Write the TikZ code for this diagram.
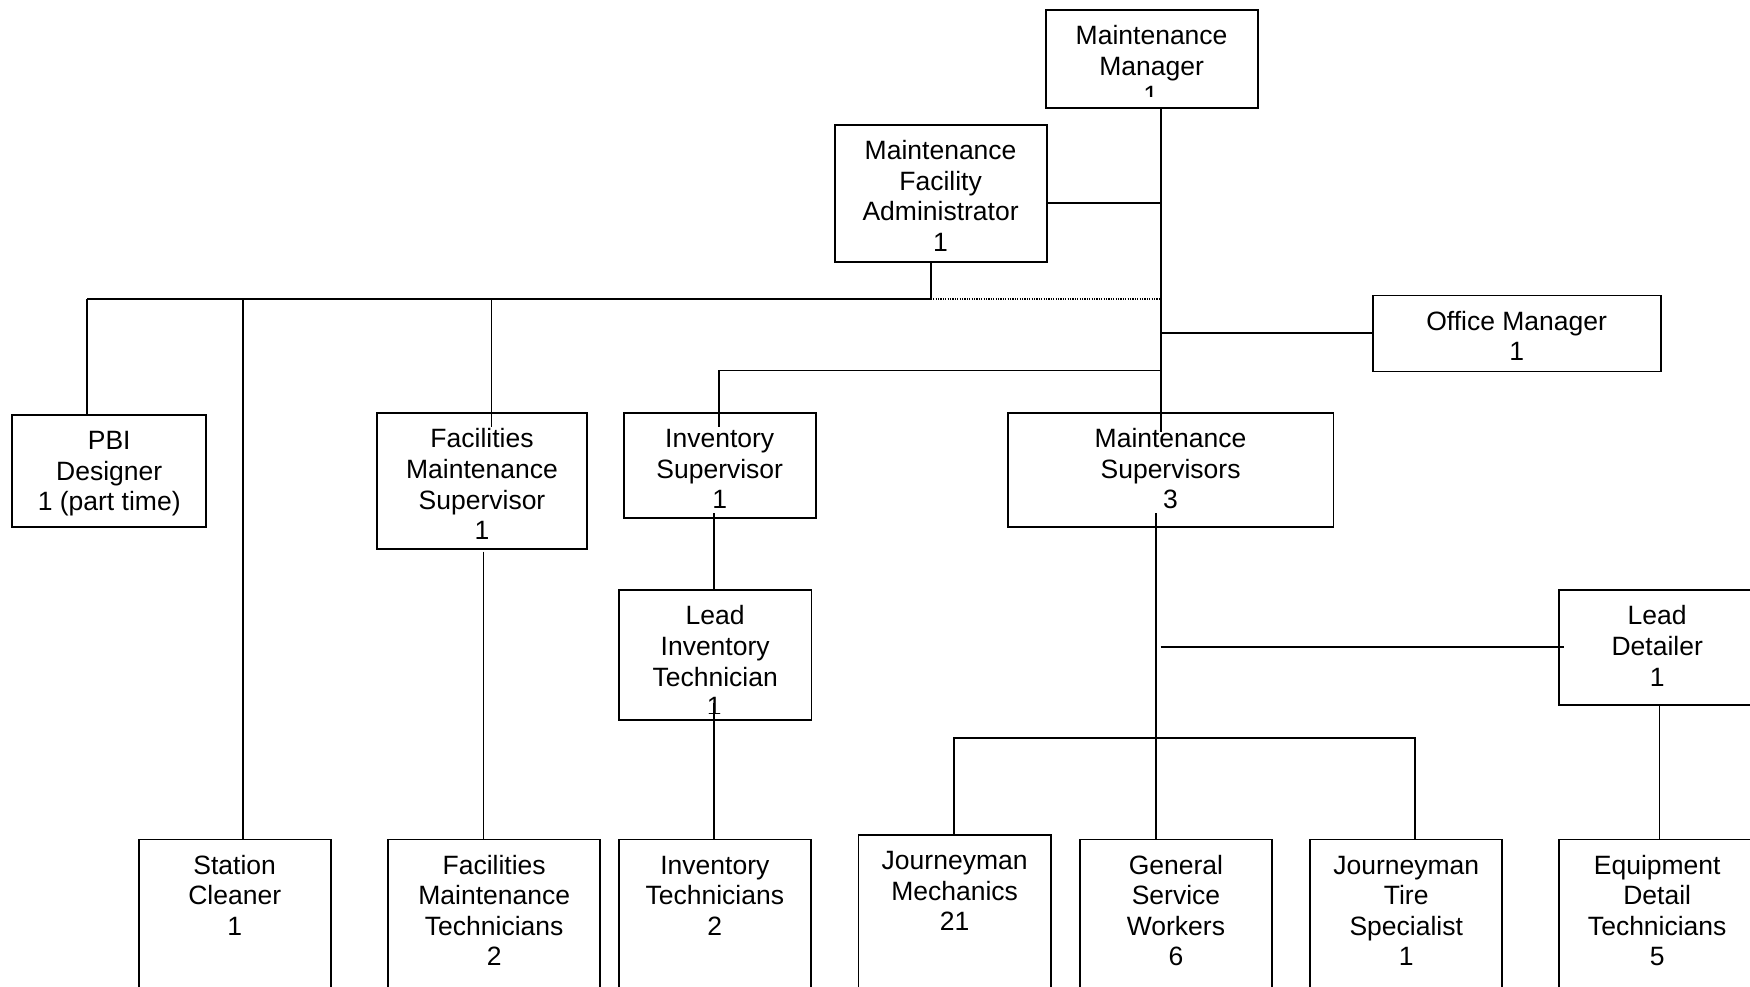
\documentclass[tikz,border=0pt]{standalone}
\usepackage{fontspec}
\setmainfont{Liberation Sans}
\newcommand{\bt}[3]{\parbox[t][#2][t]{#1}{\centering\rule{0pt}{34.7pt}#3}}
\tikzset{
  orgbox/.style={draw, line width=1.8pt, inner sep=0pt, anchor=north west,
    font=\fontsize{26.5}{30.6}\selectfont},
  txt/.style={inner sep=0pt, font=\fontsize{26.5}{30.6}\selectfont},
  conn/.style={line width=1.8pt},
  dotline/.style={line width=1.5pt, dash pattern=on 1.2pt off 1.2pt}
}
\begin{document}
\begin{tikzpicture}[x=1pt,y=-1pt]
\useasboundingbox (0,0) rectangle (1750,987);
\clip (0,0) rectangle (1750,987);
\fill[white] (0,0) rectangle (1750,987);

% boxes
\node[orgbox] (mm)   at (1044.7,8.9)   {\bt{212pt}{98.2pt}{Maintenance\\Manager}};
\node[orgbox] (mfa)  at (833.7,123.9)  {\bt{212pt}{137.3pt}{Maintenance\\Facility\\Administrator\\1}};
\node[orgbox] (om)   at (1371.7,294.6) {\bt{288pt}{75.9pt}{Office Manager\\1}};
\node[orgbox] (pbi)  at (11.2,414.1)   {\bt{194.2pt}{111.6pt}{PBI\\Designer\\1 (part time)}};
\node[orgbox] (fms)  at (376.1,412.3)  {\bt{210pt}{135.5pt}{Facilities\\Maintenance\\Supervisor\\1}};
\node[orgbox] (isup) at (622.8,411.8)  {\bt{192pt}{105pt}{Inventory\\Supervisor\\1}};
\node[orgbox] (ms)   at (1006.7,411.8) {\bt{325.9pt}{113.9pt}{Maintenance\\Supervisors\\3}};
\node[orgbox] (lit)  at (618,589.3)    {\bt{192.5pt}{129.7pt}{Lead\\Inventory\\Technician}};
\node[orgbox] (ld)   at (1558.3,589.3) {\bt{196pt}{115pt}{Lead\\Detailer\\1}};
\node[orgbox] (sc)   at (137.8,838.5)  {\bt{192pt}{200pt}{Station\\Cleaner\\1}};
\node[orgbox] (fmt)  at (387.3,838.5)  {\bt{212pt}{200pt}{Facilities\\Maintenance\\Technicians\\2}};
\node[orgbox] (it)   at (617.8,838.5)  {\bt{192.3pt}{200pt}{Inventory\\Technicians\\2}};
\node[orgbox] (jm)   at (857.5,833.9)  {\bt{192.5pt}{200pt}{Journeyman\\Mechanics\\21}};
\node[orgbox] (gsw)  at (1079.2,838.5) {\bt{191.7pt}{200pt}{General\\Service\\Workers\\6}};
\node[orgbox] (jts)  at (1309.2,838.5) {\bt{192.2pt}{200pt}{Journeyman\\Tire\\Specialist\\1}};
\node[orgbox] (edt)  at (1558.3,838.5) {\bt{196pt}{200pt}{Equipment\\Detail\\Technicians\\5}};

% partly hidden counts
\begin{scope}
  \clip (mm.north west) rectangle (1256.7,97);
  \node[txt, anchor=base] (mm1) at (1150.7,104.9) {1};
\end{scope}
\begin{scope}
  \clip (lit.north west) rectangle (810.5,713);
  \node[txt, anchor=base] (lit1) at (714.3,715.8) {1};
\end{scope}

% connectors
\coordinate (sp) at (1160.7,432);
\draw[conn] (mm.south -| sp) -- (sp);
\coordinate (mfaJ) at (1160.7,203.1);
\draw[conn] (mfa.east |- mfaJ) -- (mfaJ);
\coordinate (barL) at (87.1,299.1);
\coordinate (barM) at (930.8,299.1);
\coordinate (barR) at (1160.7,299.1);
\draw[conn] (mfa.south -| barM) -- (barM);
\draw[conn] (barL) -- (barM);
\draw[dotline] (barM) -- (barR);
\draw[conn] (barL) -- (pbi.north -| barL);
\coordinate (scX) at (242.6,299.1);
\draw[conn] (scX) -- (sc.north -| scX);
\coordinate (fmsX) at (491.4,299.1);
\coordinate (fmsIn) at (491.4,426.5);
\draw[conn] (fmsX) -- (fmsIn);
\coordinate (omJ) at (1160.7,332.6);
\draw[conn] (omJ) -- (om.west |- omJ);
\coordinate (isJ) at (1160.7,370.5);
\coordinate (isC) at (718.8,370.5);
\coordinate (isIn) at (718.8,427);
\draw[conn] (isJ) -- (isC) -- (isIn);
\coordinate (isOut) at (714.3,513);
\draw[conn] (isOut) -- (lit.north -| isOut);
\coordinate (litOut) at (714.3,703);
\draw[conn] (litOut) -- (it.north -| litOut);
\coordinate (fmsOut) at (483.5,551.5);
\draw[conn] (fmsOut) -- (fmt.north -| fmsOut);
\coordinate (msOut) at (1155.7,513);
\draw[conn] (msOut) -- (gsw.north -| msOut);
\coordinate (ldJ) at (1160.7,647);
\coordinate (ldIn) at (1564,647);
\draw[conn] (ldJ) -- (ldIn);
\coordinate (ldX) at (1659.4,700);
\draw[conn] (ld.south -| ldX) -- (edt.north -| ldX);
\coordinate (jmB) at (954.3,738.3);
\coordinate (jtsB) at (1414.8,738.3);
\draw[conn] (jm.north -| jmB) -- (jmB) -- (jtsB) -- (jts.north -| jtsB);
\end{tikzpicture}
\end{document}
